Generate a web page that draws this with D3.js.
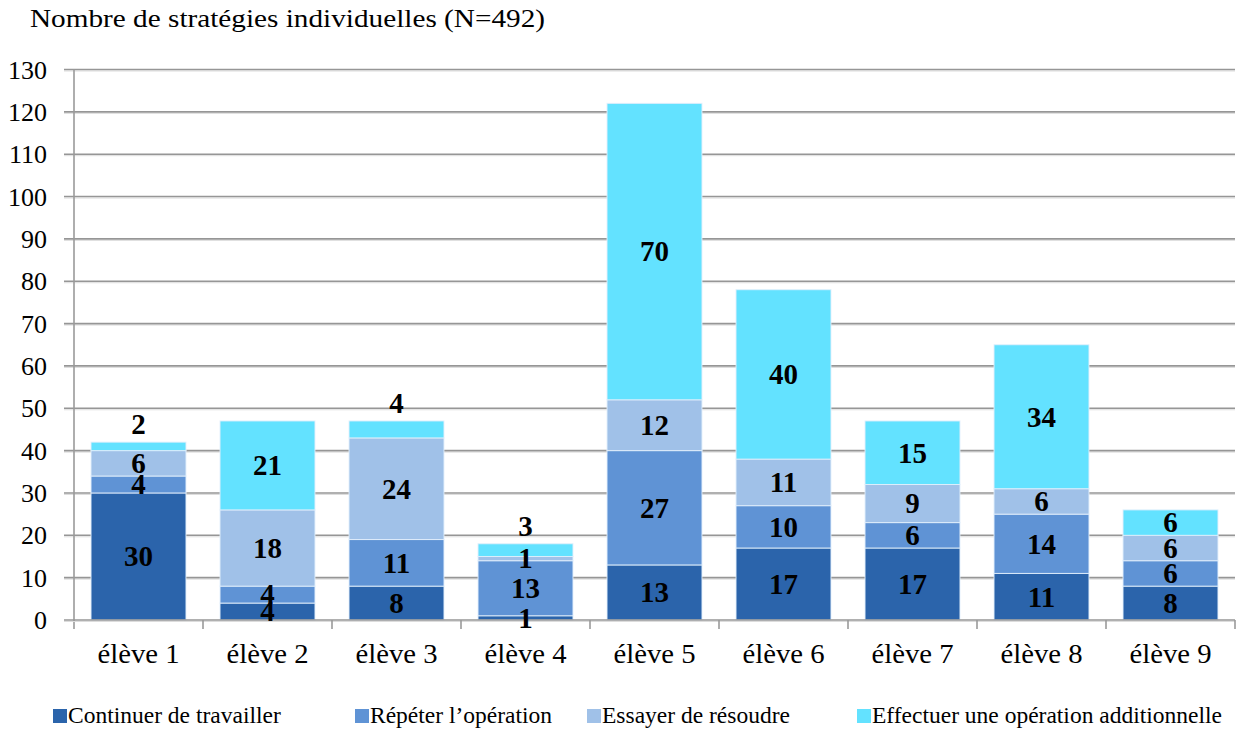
<!DOCTYPE html>
<html>
<head>
<meta charset="utf-8">
<script src="https://cdn.jsdelivr.net/npm/d3@7"></script>
<style>
  html, body { margin: 0; padding: 0; background: #fff; }
  svg { display: block; font-family: "Liberation Serif", "Times New Roman", serif; }
</style>
</head>
<body>
<svg id="chart" width="1241" height="734"></svg>
<script>
const title = "Nombre de stratégies individuelles (N=492)";
const categories = ["élève 1", "élève 2", "élève 3", "élève 4", "élève 5", "élève 6", "élève 7", "élève 8", "élève 9"];
const seriesNames = ["Continuer de travailler", "Répéter l’opération", "Essayer de résoudre", "Effectuer une opération additionnelle"];
const continuer = [30, 4, 8, 1, 13, 17, 17, 11, 8];
const repeter   = [4, 4, 11, 13, 27, 10, 6, 14, 6];
const essayer   = [6, 18, 24, 1, 12, 11, 9, 6, 6];
const effectuer = [2, 21, 4, 3, 70, 40, 15, 34, 6];
const yTicks = [0, 10, 20, 30, 40, 50, 60, 70, 80, 90, 100, 110, 120, 130];
const colors = ["#2B64AB", "#5F93D5", "#A0C1E8", "#63E2FF"];

(function () {
const seriesValues = [continuer, repeter, essayer, effectuer];
const rows = categories.map((c, i) => {
  const r = { cat: c };
  seriesNames.forEach((s, k) => { r[s] = seriesValues[k][i]; });
  return r;
});

const svg = d3.select("#chart");
const pLeft = 74, pRight = 1235, pTop = 69.5, pBottom = 620;

const x = d3.scaleBand().domain(categories).range([pLeft, pRight]).paddingInner(0.264).paddingOuter(0.132);
const y = d3.scaleLinear().domain([0, 130]).range([pBottom, pTop]);

// Title
svg.append("text").attr("x", 30).attr("y", 27).attr("font-size", 26).attr("fill", "#000")
  .attr("textLength", 515).attr("lengthAdjust", "spacingAndGlyphs").text(title);

// Gridlines (with light shadow)
const grid = svg.append("g");
yTicks.forEach(t => {
  if (t === 0) return;
  grid.append("line").attr("x1", pLeft - 10).attr("x2", pRight).attr("y1", y(t) + 1.5).attr("y2", y(t) + 1.5)
    .attr("stroke", "#dcdcdc").attr("stroke-width", 1);
  grid.append("line").attr("x1", pLeft - 10).attr("x2", pRight).attr("y1", y(t)).attr("y2", y(t))
    .attr("stroke", "#969696").attr("stroke-width", 1.6);
});

// Bars
const stacked = d3.stack().keys(seriesNames)(rows);
const barG = svg.append("g");
stacked.forEach((layer, k) => {
  barG.selectAll(null).data(layer).enter().append("rect")
    .attr("x", d => x(d.data.cat))
    .attr("width", x.bandwidth())
    .attr("y", d => y(d[1]))
    .attr("height", d => y(d[0]) - y(d[1]))
    .attr("fill", colors[k])
    .attr("stroke", "rgba(225,238,252,0.9)")
    .attr("stroke-width", 1);
});

// Axes
const axisG = svg.append("g");
axisG.append("line").attr("x1", pLeft).attr("x2", pLeft).attr("y1", pTop).attr("y2", pBottom + 9)
  .attr("stroke", "#9a9a9a").attr("stroke-width", 1.6);
axisG.append("line").attr("x1", pLeft - 10).attr("x2", pRight).attr("y1", pBottom + 1.5).attr("y2", pBottom + 1.5)
  .attr("stroke", "#dcdcdc").attr("stroke-width", 1);
axisG.append("line").attr("x1", pLeft - 10).attr("x2", pRight).attr("y1", pBottom).attr("y2", pBottom)
  .attr("stroke", "#969696").attr("stroke-width", 1.6);
const step = x.step();
categories.forEach((c) => {
  const bx = x(c) - step * x.paddingInner() / 2 + step;
  axisG.append("line").attr("x1", bx).attr("x2", bx).attr("y1", pBottom).attr("y2", pBottom + 9)
    .attr("stroke", "#9a9a9a").attr("stroke-width", 1.6);
});

// y tick labels
svg.append("g").selectAll("text").data(yTicks).enter().append("text")
  .attr("x", 47).attr("y", d => y(d)).attr("dy", "0.35em")
  .attr("text-anchor", "end").attr("font-size", 26).attr("fill", "#000")
  .text(d => d);

// category labels
svg.append("g").selectAll("text").data(categories).enter().append("text")
  .attr("x", d => x(d) + x.bandwidth() / 2 - 41).attr("y", 663)
  .attr("font-size", 27).attr("fill", "#000")
  .attr("textLength", 82).attr("lengthAdjust", "spacingAndGlyphs")
  .text(d => d);

// data labels
const lblG = svg.append("g");
stacked.forEach((layer, k) => {
  layer.forEach(d => {
    const v = d[1] - d[0];
    const isTopSmall = (k === seriesNames.length - 1) && v <= 4;
    const cx = x(d.data.cat) + x.bandwidth() / 2;
    let ty, dy;
    if (isTopSmall) { ty = y(d[1]) - 8; dy = "0"; }
    else { ty = (y(d[0]) + y(d[1])) / 2; dy = "0.34em"; }
    lblG.append("text").attr("x", cx).attr("y", ty).attr("dy", dy)
      .attr("text-anchor", "middle").attr("font-size", 29).attr("font-weight", "bold").attr("fill", "#000")
      .text(v);
  });
});

// Legend
const legendX = [53, 355, 587, 857];
const lg = svg.append("g");
seriesNames.forEach((s, k) => {
  lg.append("rect").attr("x", legendX[k]).attr("y", 709).attr("width", 14).attr("height", 14).attr("fill", colors[k]);
  lg.append("text").attr("x", legendX[k] + 15).attr("y", 723).attr("font-size", 23.5).attr("fill", "#000").text(s);
});
})();
</script>
</body>
</html>
